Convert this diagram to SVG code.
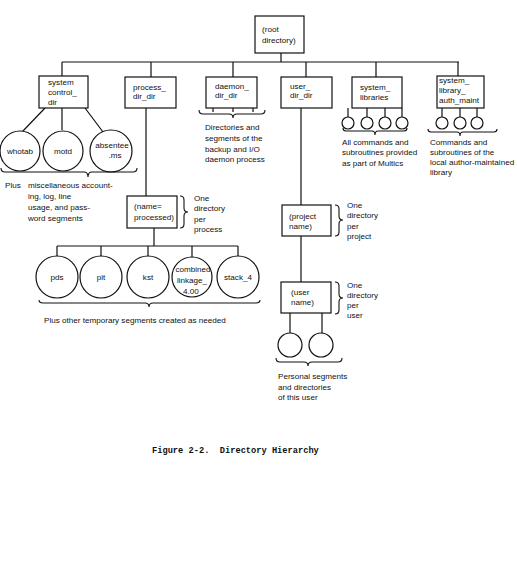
<svg xmlns="http://www.w3.org/2000/svg" width="517" height="567" viewBox="0 0 517 567">
<style>
.b{fill:#fff;stroke:#111;stroke-width:1.2}
.c{fill:#fff;stroke:#111;stroke-width:1.2}
.l{fill:none;stroke:#111;stroke-width:1.2}
.br{fill:none;stroke:#111;stroke-width:1.1}
text{font-family:"Liberation Sans",Arial,sans-serif;font-size:8.1px;fill:#111}
.m{text-anchor:middle}
.cap{font-family:"Liberation Mono","Courier New",monospace;font-size:8.7px;font-weight:bold}
</style>
<rect width="517" height="567" fill="#fff"/>
<g id="connectors">
<path class="l" d="M281 53V62M62 62H459M62 62V76M151 62V77M233 62V77M306 62V77M376 62V77M458 62V76"/>
<path class="l" d="M45 108L22 132M62 108V130M85 108L103 132"/>
<path class="l" d="M146 108V196M154 228V246M57 246H238M57 246V256M101 246V256M148 246V256M192 246V257M238 246V256"/>
<path class="l" d="M213 108V112M233 108V112M253 108V112"/>
<path class="l" d="M348 108V117M367 108V117M385 108V117M402 108V117"/>
<path class="l" d="M442 108V117M460 108V117M477 108V117"/>
<path class="l" d="M301 108V205M301 236V282M290 313V333M322 313V333"/>
</g>
<g id="root"><rect class="b" x="255" y="16" width="49" height="37"/><text x="262" y="32">(root</text><text x="262" y="43">directory)</text></g>
<g id="system_control_dir"><rect class="b" x="39" y="76" width="49" height="32"/><text x="48" y="85">system</text><text x="48" y="95">control_</text><text x="48" y="105">dir</text></g>
<g id="process_dir_dir"><rect class="b" x="125" y="77" width="51" height="31"/><text x="133" y="90">process_</text><text x="133" y="99">dir_dir</text></g>
<g id="daemon_dir_dir"><rect class="b" x="206" y="77" width="51" height="31"/><text x="215" y="89">daemon_</text><text x="215" y="98">dir_dir</text></g>
<g id="user_dir_dir"><rect class="b" x="281" y="77" width="51" height="31"/><text x="290" y="89">user_</text><text x="290" y="98">dir_dir</text></g>
<g id="system_libraries"><rect class="b" x="352" y="77" width="50" height="31"/><text x="360" y="90">system_</text><text x="360" y="100">libraries</text></g>
<g id="system_library_auth_maint"><rect class="b" x="437" y="76" width="47" height="32"/><text x="439" y="83">system_</text><text x="439" y="93">library_</text><text x="439" y="103">auth_maint</text></g>
<g id="whotab"><circle class="c" cx="20" cy="151" r="20"/><text class="m" x="20" y="154">whotab</text></g>
<g id="motd"><circle class="c" cx="63" cy="151" r="20"/><text class="m" x="63" y="154">motd</text></g>
<g id="absentee"><circle class="c" cx="111" cy="151" r="21"/><text class="m" x="112" y="148">absentee</text><text class="m" x="115" y="158">.ms</text></g>
<g id="system_control_note"><path class="br" d="M1 168Q1 172 5 172H84Q88 172 88 177Q88 172 92 172H133Q137 172 137 168"/><text x="5" y="188">Plus</text><text x="28" y="188">miscellaneous account-</text><text x="28" y="199">ing, log, line</text><text x="28" y="210">usage, and pass-</text><text x="28" y="221">word segments</text></g>
<g id="daemon_note"><path class="br" d="M199 110Q199 114 203 114H229Q233 114 233 118Q233 114 237 114H261Q265 114 265 110"/><text x="205" y="130">Directories and</text><text x="205" y="141">segments of the</text><text x="205" y="152">backup and I/O</text><text x="205" y="162">daemon process</text></g>
<g id="lib_circles"><circle class="c" cx="348" cy="123" r="6"/><circle class="c" cx="367" cy="123" r="6"/><circle class="c" cx="385" cy="123" r="6"/><circle class="c" cx="402" cy="123" r="6"/><path class="br" d="M343 128Q343 131 346 131H372Q375 131 375 135Q375 131 378 131H404Q407 131 407 128"/><text x="342" y="145">All commands and</text><text x="342" y="155">subroutines provided</text><text x="342" y="166">as part of Multics</text></g>
<g id="auth_circles"><circle class="c" cx="442" cy="123" r="6"/><circle class="c" cx="460" cy="123" r="6"/><circle class="c" cx="477" cy="123" r="6"/><path class="br" d="M428 129Q428 132 431 132H457Q460 132 460 136Q460 132 463 132H494Q497 132 497 129"/><text x="430" y="145">Commands and</text><text x="430" y="155">subroutines of the</text><text x="430" y="165">local author-maintained</text><text x="430" y="175">library</text></g>
<g id="name_processed"><rect class="b" x="127" y="196" width="50" height="32"/><text x="134" y="209">(name=</text><text x="134" y="220">processed)</text><path class="br" d="M180 196Q184 196 184 200V208Q184 212 188 212Q184 212 184 216V224Q184 228 180 228"/><text x="194" y="201">One</text><text x="194" y="211">directory</text><text x="194" y="222">per</text><text x="194" y="232">process</text></g>
<g id="pds"><circle class="c" cx="57" cy="277" r="21"/><text class="m" x="57" y="280">pds</text></g>
<g id="pit"><circle class="c" cx="101" cy="277" r="21"/><text class="m" x="101" y="280">pit</text></g>
<g id="kst"><circle class="c" cx="148" cy="277" r="21"/><text class="m" x="148" y="280">kst</text></g>
<g id="combined"><circle class="c" cx="192" cy="277" r="20"/><text class="m" x="193" y="272">combined</text><text class="m" x="192" y="283">linkage_</text><text class="m" x="191" y="294">4.00</text></g>
<g id="stack_4"><circle class="c" cx="238" cy="277" r="21"/><text class="m" x="238" y="280">stack_4</text></g>
<g id="temp_note"><path class="br" d="M39 300Q39 303 43 303H145Q149 303 149 307Q149 303 153 303H256Q260 303 260 300"/><text x="44" y="323">Plus other temporary segments created as needed</text></g>
<g id="project_name"><rect class="b" x="282" y="205" width="49" height="31"/><text x="289" y="219">(project</text><text x="289" y="229">name)</text><path class="br" d="M335 205Q339 205 339 209V216Q339 220 343 220Q339 220 339 224V232Q339 236 335 236"/><text x="347" y="208">One</text><text x="347" y="218">directory</text><text x="347" y="229">per</text><text x="347" y="239">project</text></g>
<g id="user_name"><rect class="b" x="281" y="282" width="50" height="31"/><text x="291" y="295">(user</text><text x="291" y="305">name)</text><path class="br" d="M335 282Q339 282 339 286V294Q339 298 343 298Q339 298 339 302V310Q339 314 335 314"/><text x="347" y="288">One</text><text x="347" y="298">directory</text><text x="347" y="308">per</text><text x="347" y="318">user</text></g>
<g id="user_segments"><circle class="c" cx="290" cy="345" r="12"/><circle class="c" cx="321" cy="345" r="12"/><path class="br" d="M276 358Q276 362 280 362H304Q308 362 308 366Q308 362 312 362H338Q342 362 342 358"/><text x="278" y="379">Personal segments</text><text x="278" y="390">and directories</text><text x="278" y="400">of this user</text></g>
<text class="cap" x="152" y="453" xml:space="preserve">Figure 2-2.  Directory Hierarchy</text>
</svg>
